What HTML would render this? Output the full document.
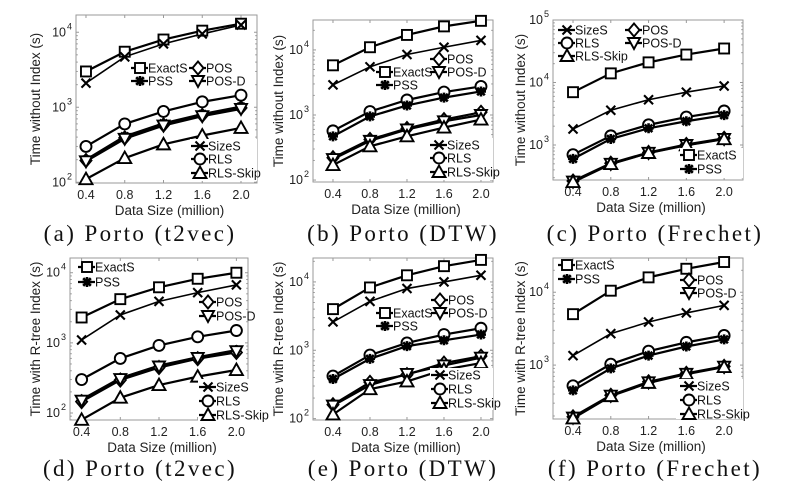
<!DOCTYPE html>
<html><head><meta charset="utf-8"><style>
body{margin:0;background:#fff;width:797px;height:504px;overflow:hidden}
svg{display:block}
.tk{font-family:"Liberation Sans",sans-serif;font-size:12.5px;fill:#222}
.lg{font-family:"Liberation Sans",sans-serif;font-size:12.5px;fill:#111}
.cap{font-family:"Liberation Serif",serif;font-size:23px;letter-spacing:2.4px;fill:#111}
</style></head><body>
<svg id="fig" width="797" height="504" viewBox="0 0 797 504" xmlns="http://www.w3.org/2000/svg"></svg>
<script>
const categories=[0.4,0.8,1.2,1.6,2.0];
const xTickLabels=["0.4","0.8","1.2","1.6","2.0"];
const seriesNames=["ExactS","PSS","POS","POS-D","SizeS","RLS","RLS-Skip"];
// panel a
const aExactS=[3000,5500,8000,10500,13000];
const aSizeS=[2100,4700,7000,9500,12500];
const aRLS=[300,600,880,1180,1450];
const aPSS=[200,410,610,810,1020];
const aPOS=[195,390,580,780,980];
const aPOSD=[190,380,570,760,950];
const aRLSSkip=[110,210,320,420,530];
// panel b
const bExactS=[5800,11000,17000,23000,28000];
const bSizeS=[2900,5500,8500,11000,14000];
const bRLS=[570,1130,1700,2250,2750];
const bPSS=[470,950,1400,1850,2300];
const bPOS=[220,420,620,850,1100];
const bPOSD=[210,400,600,800,1000];
const bRLSSkip=[170,330,470,640,850];
// panel c
const cExactS=[7000,14000,21000,28000,35000];
const cSizeS=[1800,3600,5300,7000,8800];
const cRLS=[700,1400,2100,2800,3500];
const cPSS=[600,1250,1850,2400,3000];
const cPOS=[265,510,760,1020,1280];
const cPOSD=[260,500,750,1000,1250];
const cRLSSkip=[255,495,745,990,1240];
// panel d
const dExactS=[2300,4200,6200,8200,10000];
const dSizeS=[1100,2500,3900,5200,6700];
const dRLS=[300,600,920,1220,1500];
const dPSS=[155,315,475,625,790];
const dPOS=[145,295,445,595,730];
const dPOSD=[150,305,460,610,760];
const dRLSSkip=[80,165,250,330,410];
// panel e
const eExactS=[4000,8300,12500,17000,21000];
const eSizeS=[2600,5200,8000,10000,12500];
const eRLS=[420,850,1280,1700,2100];
const ePSS=[380,750,1150,1400,1700];
const ePOS=[160,340,440,650,820];
const ePOSD=[155,310,450,600,780];
const eRLSSkip=[115,270,350,520,650];
// panel f
const fExactS=[5000,10500,16000,21000,26000];
const fSizeS=[1350,2700,3900,5200,6600];
const fRLS=[520,1030,1550,2050,2550];
const fPSS=[450,900,1350,1800,2250];
const fPOS=[195,385,590,770,960];
const fPOSD=[190,380,580,760,950];
const fRLSSkip=[185,375,570,750,940];

const NS="http://www.w3.org/2000/svg";
const fig=document.getElementById('fig');
function mk(tag,attrs,parent){const e=document.createElementNS(NS,tag);for(const k in attrs)e.setAttribute(k,attrs[k]);(parent||fig).appendChild(e);return e;}

const panels=[
 {id:'a',L:76,T:15,R:257,B:183,x0:0.297,x1:2.165,y0:1.99,y1:4.23,ylab:'Time without Index (s)',ylx:40,cap:'(a) Porto (t2vec)',capx:140,capy:241,
  data:[aExactS,aPSS,aPOS,aPOSD,aSizeS,aRLS,aRLSSkip],
  leg:[[0,140,68],[1,140,81],[2,198,68],[3,198,81],[4,200,146],[5,200,159],[6,200,173]],lbox:[190,139,67,42]},
 {id:'b',L:313,T:20,R:493,B:182,x0:0.184,x1:2.13,y0:1.97,y1:4.46,ylab:'Time without Index (s)',ylx:283,cap:'(b) Porto (DTW)',capx:403,capy:241,
  data:[bExactS,bPSS,bPOS,bPOSD,bSizeS,bRLS,bRLSSkip],
  leg:[[0,385,72],[1,385,85],[2,439,59],[3,439,72],[4,439,145],[5,439,158],[6,439,172]],lbox:[429,138,64,42]},
 {id:'c',L:553,T:20,R:743,B:180,x0:0.188,x1:2.2,y0:2.44,y1:5.0,ylab:'Time without Index (s)',ylx:525,cap:'(c) Porto (Frechet)',capx:655,capy:241,
  data:[cExactS,cPSS,cPOS,cPOSD,cSizeS,cRLS,cRLSSkip],
  leg:[[4,567,30],[5,567,43],[6,567,56],[2,634,30],[3,634,43],[0,689,155],[1,689,169]],lbox:[680,148,63,30]},
 {id:'d',L:70,T:258,R:248,B:420,x0:0.28,x1:2.12,y0:1.9,y1:4.21,ylab:'Time with R-tree Index (s)',ylx:40,cap:'(d) Porto (t2vec)',capx:140,capy:476,
  data:[dExactS,dPSS,dPOS,dPOSD,dSizeS,dRLS,dRLSSkip],
  leg:[[0,87,267],[1,87,282],[2,208,302],[3,208,316],[4,208,387],[5,208,401],[6,208,415]],lbox:[198,379,60,42]},
 {id:'e',L:313,T:258,R:493,B:420,x0:0.184,x1:2.13,y0:1.98,y1:4.35,ylab:'Time with R-tree Index (s)',ylx:283,cap:'(e) Porto (DTW)',capx:403,capy:476,
  data:[eExactS,ePSS,ePOS,ePOSD,eSizeS,eRLS,eRLSSkip],
  leg:[[0,385,313],[1,385,326],[2,440,300],[3,440,313],[4,440,375],[5,440,389],[6,440,403]],lbox:[430,368,63,42]},
 {id:'f',L:553,T:258,R:743,B:419,x0:0.188,x1:2.2,y0:2.26,y1:4.47,ylab:'Time with R-tree Index (s)',ylx:525,cap:'(f) Porto (Frechet)',capx:655,capy:476,
  data:[fExactS,fPSS,fPOS,fPOSD,fSizeS,fRLS,fRLSSkip],
  leg:[[0,567,265],[1,567,279],[2,689,280],[3,689,293],[4,689,386],[5,689,400],[6,689,414]],lbox:[676,379,67,40]}
];

function marker(g,k,x,y){
  const st={stroke:'#000','stroke-width':1.9,fill:'#fff'};
  let e;
  switch(k){
   case 0: e=mk('rect',Object.assign({x:x-5,y:y-5,width:10,height:10},st),g);break;
   case 1: e=mk('path',{d:`M${x-5} ${y}L${x+5} ${y}M${x} ${y-5}L${x} ${y+5}M${x-3.8} ${y-3.8}L${x+3.8} ${y+3.8}M${x-3.8} ${y+3.8}L${x+3.8} ${y-3.8}`,stroke:'#000','stroke-width':2.6},g);mk('circle',{cx:x,cy:y,r:3,fill:'#000'},g);break;
   case 2: e=mk('path',Object.assign({d:`M${x} ${y-6.5}L${x+5.5} ${y}L${x} ${y+6.5}L${x-5.5} ${y}Z`},st),g);break;
   case 3: e=mk('path',Object.assign({d:`M${x-6} ${y-5}L${x+6} ${y-5}L${x} ${y+6}Z`},st),g);break;
   case 4: e=mk('path',{d:`M${x-4.5} ${y-4.5}L${x+4.5} ${y+4.5}M${x-4.5} ${y+4.5}L${x+4.5} ${y-4.5}`,stroke:'#000','stroke-width':2.1},g);break;
   case 5: e=mk('circle',Object.assign({cx:x,cy:y,r:5.5},st),g);break;
   case 6: e=mk('path',Object.assign({d:`M${x} ${y-6.5}L${x+6.5} ${y+5}L${x-6.5} ${y+5}Z`},st),g);break;
  }
  
  
}

panels.forEach(p=>{
  const g=mk('g',{});
  
  
  const sx=v=>p.L+(v-p.x0)/(p.x1-p.x0)*(p.R-p.L);
  const sy=v=>p.B-(Math.log10(v)-p.y0)/(p.y1-p.y0)*(p.B-p.T);
  const box=mk('rect',{x:p.L,y:p.T,width:p.R-p.L,height:p.B-p.T,fill:'#fff',stroke:'#999','stroke-width':1},g);
  
  
  categories.forEach((c,i)=>{
    const x=sx(c);
    mk('line',{x1:x,y1:p.B,x2:x,y2:p.B-3,stroke:'#999'},g);
    mk('line',{x1:x,y1:p.T,x2:x,y2:p.T+3,stroke:'#999'},g);
    const t=mk('text',{x:x,y:p.B+16,'text-anchor':'middle',class:'tk'},g);
    t.textContent=xTickLabels[i];
    
    
  });
  for(let d=Math.floor(p.y0);d<=p.y1+0.001;d++){
    for(let m=1;m<10;m++){
      const lv=d+Math.log10(m); if(lv<p.y0||lv>p.y1)continue;
      const y=sy(Math.pow(10,lv)); const len=m===1?3:1.8;
      mk('line',{x1:p.L,y1:y,x2:p.L+len,y2:y,stroke:'#999'},g);
      mk('line',{x1:p.R,y1:y,x2:p.R-len,y2:y,stroke:'#999'},g);
    }
  }
  for(let d=Math.floor(p.y0);d<=Math.ceil(p.y1);d++){
    if(d<p.y0-0.05||d>p.y1+0.02)continue;
    const y=sy(Math.pow(10,d));
    const t=mk('text',{x:p.L-10,y:y+4,'text-anchor':'end',class:'tk'},g);
    t.textContent='10';
    
    
    const s=mk('text',{x:p.L-9,y:y-3,'text-anchor':'start',class:'tk'},g);
    s.setAttribute('style','font-size:9px');
    s.textContent=String(d);
  }
  const xl=mk('text',{x:(p.L+p.R)/2+3,y:p.B+32,'text-anchor':'middle',class:'tk'},g);
  xl.setAttribute('style','font-size:13.5px');
  xl.textContent='Data Size (million)';
  
  
  const yl=mk('text',{x:0,y:0,'text-anchor':'middle',class:'tk',transform:`translate(${p.ylx},${(p.T+p.B)/2}) rotate(-90)`},g);
  yl.setAttribute('style','font-size:13.5px');
  yl.textContent=p.ylab;
  
  
  const order=[0,4,5,1,2,3,6];
  order.forEach(k=>{
    const vals=p.data[k];
    const pts=vals.map((v,i)=>sx(categories[i])+','+sy(v)).join(' ');
    const pl=mk('polyline',{points:pts,fill:'none',stroke:'#000','stroke-width':(k===4?1.6:2.2)},g);
    
    
  });
  order.forEach(k=>{
    p.data[k].forEach((v,i)=>marker(g,k,sx(categories[i]),sy(v)));
  });
  const lb=p.lbox;
  mk('rect',{x:lb[0],y:lb[1],width:lb[2],height:lb[3],fill:'#fff'},g);
  p.leg.forEach(([k,x,y])=>{
    const lg=mk('g',{},g);
    
    
    mk('line',{x1:x-9,y1:y,x2:x+8,y2:y,stroke:'#000','stroke-width':2.2},lg);
    marker(lg,k,x,y);
    const t=mk('text',{x:x+8,y:y+4.5,class:'lg'},lg);
    t.textContent=seriesNames[k];
  });
  const cap=mk('text',{x:p.capx,y:p.capy,'text-anchor':'middle',class:'cap'},g);
  cap.textContent=p.cap;
  
  
});
</script>
</body></html>
